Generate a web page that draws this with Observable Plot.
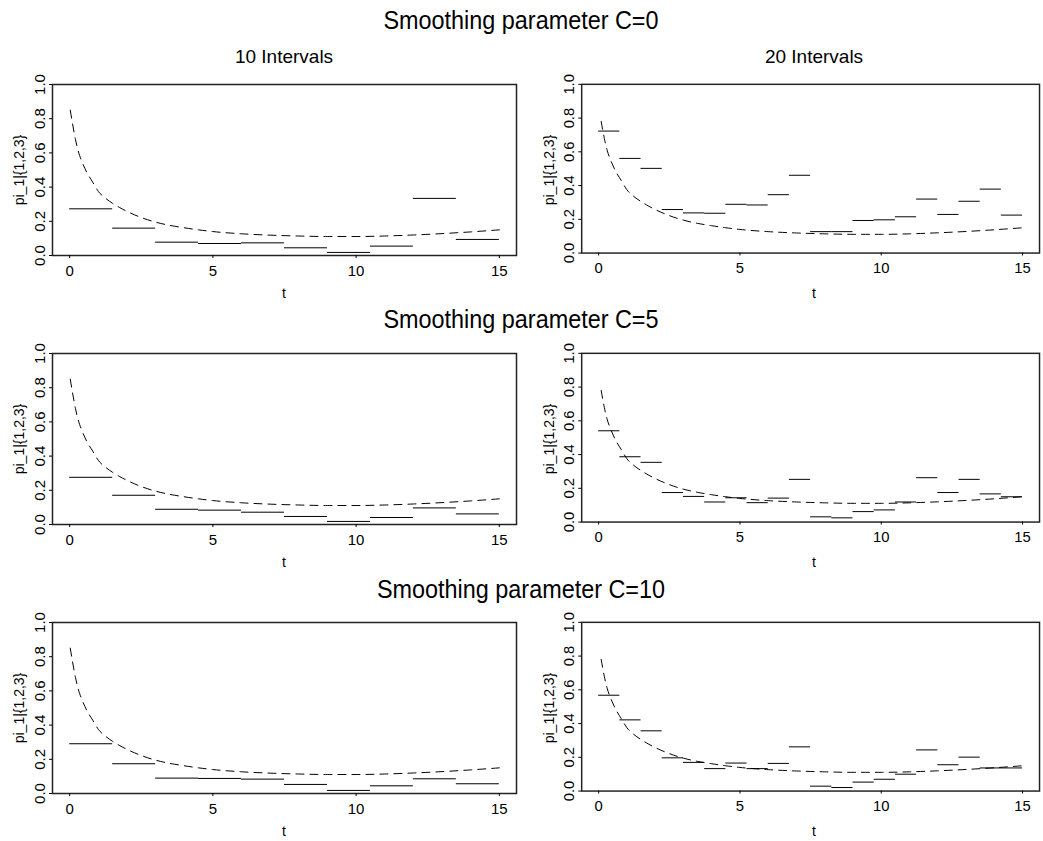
<!DOCTYPE html>
<html>
<head>
<meta charset="utf-8">
<script src="https://cdn.jsdelivr.net/npm/d3@7"></script>
<script src="https://cdn.jsdelivr.net/npm/@observablehq/plot@0.6"></script>
<style>
  html, body { margin: 0; padding: 0; background: #fff; }
  #root { position: relative; width: 1043px; height: 841px; overflow: hidden; background: #fff;
          font-family: "Liberation Sans", Arial, Helvetica, sans-serif; color: #000; }
  .abs { position: absolute; line-height: 1; white-space: nowrap; transform: translate(-50%, -50%); }
  .ttl { transform: translate(-50%, -50%) scaleX(0.9); }
  .rot { transform: translate(-50%, -50%) rotate(-90deg); }
  .panel { position: absolute; }
</style>
</head>
<body>
<div id="root"></div>
<script>
// ---- Data ----
const rowTitles = ["Smoothing parameter C=0", "Smoothing parameter C=5", "Smoothing parameter C=10"];
const colTitles = ["10 Intervals", "20 Intervals"];
const xLabel = "t";
const yLabel = "pi_1|{1,2,3}";
const xTicks = [0, 5, 10, 15];
const yTicks = [0, 0.2, 0.4, 0.6, 0.8, 1.0];

const breaks10 = [0, 1.5, 3, 4.5, 6, 7.5, 9, 10.5, 12, 13.5, 15];
const breaks20 = [0, 0.75, 1.5, 2.25, 3, 3.75, 4.5, 5.25, 6, 6.75, 7.5, 8.25, 9, 9.75, 10.5, 11.25, 12, 12.75, 13.5, 14.25, 15];

const c0_10  = [0.273, 0.160, 0.078, 0.070, 0.074, 0.045, 0.018, 0.055, 0.334, 0.094];
const c0_20  = [0.723, 0.561, 0.502, 0.258, 0.238, 0.236, 0.289, 0.285, 0.346, 0.461, 0.127, 0.127, 0.193, 0.197, 0.215, 0.320, 0.229, 0.307, 0.379, 0.225];
const c5_10  = [0.276, 0.171, 0.089, 0.084, 0.072, 0.047, 0.018, 0.041, 0.097, 0.062];
const c5_20  = [0.541, 0.387, 0.354, 0.175, 0.152, 0.119, 0.144, 0.115, 0.142, 0.253, 0.031, 0.025, 0.062, 0.072, 0.119, 0.263, 0.175, 0.253, 0.167, 0.150];
const c10_10 = [0.291, 0.174, 0.090, 0.088, 0.084, 0.053, 0.018, 0.045, 0.086, 0.057];
const c10_20 = [0.568, 0.422, 0.357, 0.197, 0.170, 0.133, 0.166, 0.133, 0.164, 0.262, 0.029, 0.021, 0.053, 0.070, 0.100, 0.244, 0.156, 0.201, 0.137, 0.137];

// true curve (dashed)
const curveT10 = [0.02, 0.09, 0.2, 0.3, 0.45, 0.6, 0.8, 1.0, 1.25, 1.5, 1.75, 2.0, 2.5, 3.0, 3.5, 4.0, 4.5, 5, 6, 7, 8, 9, 10, 11, 12, 13, 14, 15];
const curveV10 = [0.85, 0.78, 0.68, 0.61, 0.54, 0.485, 0.43, 0.375, 0.335, 0.305, 0.28, 0.258, 0.222, 0.195, 0.176, 0.162, 0.15, 0.14, 0.127, 0.119, 0.114, 0.111, 0.111, 0.114, 0.12, 0.128, 0.138, 0.15];
const curveT20 = [0.09, 0.2, 0.3, 0.45, 0.6, 0.8, 1.0, 1.25, 1.5, 1.75, 2.0, 2.5, 3.0, 3.5, 4.0, 4.5, 5, 6, 7, 8, 9, 10, 11, 12, 13, 14, 15];
const curveV20 = [0.78, 0.68, 0.61, 0.54, 0.485, 0.43, 0.375, 0.335, 0.305, 0.28, 0.258, 0.222, 0.195, 0.176, 0.162, 0.15, 0.14, 0.127, 0.119, 0.114, 0.111, 0.111, 0.114, 0.12, 0.128, 0.138, 0.15];

const rowsData = [[c0_10, c0_20], [c5_10, c5_20], [c10_10, c10_20]];

// ---- Layout ----
const boxTops = [84, 353, 622];
const boxH = 171;
const cols = [
  {left: 0,   width: 520, ml: 52, mr: 4, breaks: breaks10, ct: curveT10, cv: curveV10},
  {left: 520, width: 530, ml: 62, mr: 4, breaks: breaks20, ct: curveT20, cv: curveV20}
];
const rowTitleY = [20, 319, 589];

const root = document.getElementById("root");
function addText(txt, x, y, size, cls) {
  const d = document.createElement("div");
  d.className = "abs" + (cls ? " " + cls : "");
  d.style.left = x + "px";
  d.style.top = y + "px";
  d.style.fontSize = size + "px";
  d.textContent = txt;
  root.appendChild(d);
}

rowsData.forEach((row, r) => {
  addText(rowTitles[r], 521, rowTitleY[r], 26, "ttl");
  row.forEach((vals, c) => {
    const col = cols[c];
    const steps = vals.map((v, i) => ({a: col.breaks[i], b: col.breaks[i + 1], v}));
    const curve = col.ct.map((t, i) => ({t, v: col.cv[i]}));
    const mt = 12, mb = 30;
    const svg = Plot.plot({
      width: col.width,
      height: mt + boxH + mb,
      marginLeft: col.ml, marginRight: col.mr, marginTop: mt, marginBottom: mb,
      style: {fontSize: "15px", fontFamily: "'Liberation Sans', Arial, sans-serif", color: "#000", background: "transparent", overflow: "visible"},
      x: {domain: [-0.6, 15.6]},
      y: {domain: [0, 1]},
      marks: [
        Plot.ruleY(steps, {x1: "a", x2: "b", y: "v", stroke: "#000", strokeWidth: 1}),
        Plot.line(curve, {x: "t", y: "v", stroke: "#000", strokeWidth: 1, strokeDasharray: "8,6", curve: "monotone-x"}),
        Plot.frame({stroke: "#222", strokeWidth: 1.5}),
        Plot.axisX({ticks: xTicks, tickSize: 3, tickPadding: 7, label: null, stroke: "#000", fontSize: 15}),
        Plot.axisY({ticks: yTicks, tickSize: 3, tickPadding: 5, tickRotate: -90, tickFormat: d3.format(".1f"), label: null, stroke: "#000", fontSize: 15})
      ]
    });
    const holder = document.createElement("div");
    holder.className = "panel";
    holder.style.left = col.left + "px";
    holder.style.top = (boxTops[r] - mt) + "px";
    holder.appendChild(svg);
    root.appendChild(holder);
    const boxL = col.left + col.ml;
    const boxR = col.left + col.width - col.mr;
    const cx = (boxL + boxR) / 2;
    addText(xLabel, cx, boxTops[r] + boxH + 38, 14);
    addText(yLabel, boxL - 33, boxTops[r] + boxH / 2, 14, "rot");
    if (r === 0) addText(colTitles[c], cx, 56, 19);
  });
});
</script>
</body>
</html>
